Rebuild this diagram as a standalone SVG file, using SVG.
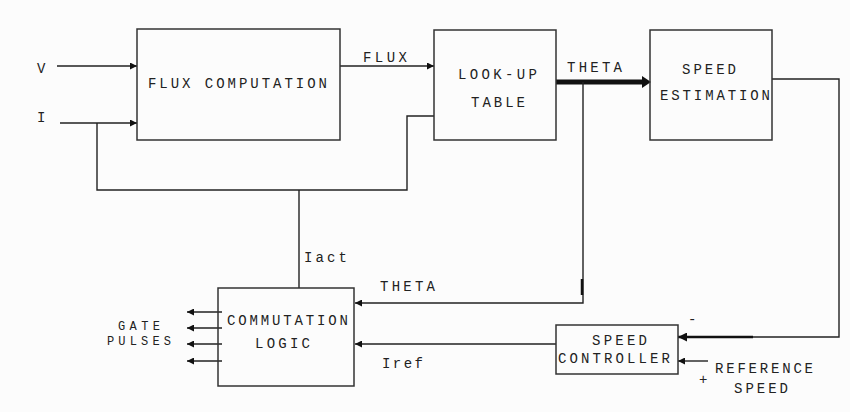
<svg xmlns="http://www.w3.org/2000/svg" width="850" height="412" viewBox="0 0 850 412">
<defs>
<style>
.box{fill:none;stroke:#333;stroke-width:1.5}
.ln{fill:none;stroke:#222;stroke-width:1.4}
.t{font-family:"Liberation Mono","DejaVu Sans Mono",monospace;font-size:14px;fill:#222}
.s{font-size:12px}
</style>
<marker id="ah" viewBox="0 0 10 10" refX="10" refY="5" markerWidth="8" markerHeight="7" markerUnits="userSpaceOnUse" orient="auto"><path d="M0,0 L10,5 L0,10 Z" fill="#111"/></marker>
<marker id="ahb" viewBox="0 0 10 10" refX="10" refY="5" markerWidth="10" markerHeight="9" markerUnits="userSpaceOnUse" orient="auto"><path d="M0,0 L10,5 L0,10 Z" fill="#111"/></marker>
</defs>
<rect width="850" height="412" fill="#fcfcfc"/>
<g id="connectors">
<line class="ln" x1="57" y1="66" x2="137" y2="66" marker-end="url(#ah)"/>
<line class="ln" x1="60" y1="123" x2="137" y2="123" marker-end="url(#ah)"/>
<polyline class="ln" points="97,123 97,190 407,190 407,116 434,116"/>
<line class="ln" x1="299" y1="190" x2="299" y2="288"/>
<line class="ln" x1="340" y1="66" x2="434" y2="66" marker-end="url(#ah)"/>
<line x1="556" y1="82" x2="645" y2="82" stroke="#111" stroke-width="5"/>
<path d="M642,76 L651,82 L642,88 Z" fill="#111"/>
<polyline class="ln" points="583,82 583,303 355,303" marker-end="url(#ah)"/>
<line x1="582" y1="279" x2="582" y2="295" stroke="#111" stroke-width="2.5"/>
<polyline class="ln" points="772,79 839,79 839,337 753,337"/>
<line x1="753" y1="337" x2="678" y2="337" stroke="#111" stroke-width="2.5" marker-end="url(#ahb)"/>
<line class="ln" x1="708" y1="361" x2="678" y2="361" marker-end="url(#ah)"/>
<line class="ln" x1="556" y1="344" x2="355" y2="344" marker-end="url(#ah)"/>
<line class="ln" x1="222" y1="312" x2="187" y2="312" marker-end="url(#ah)"/>
<line class="ln" x1="222" y1="328" x2="187" y2="328" marker-end="url(#ah)"/>
<line class="ln" x1="222" y1="344" x2="187" y2="344" marker-end="url(#ah)"/>
<line class="ln" x1="222" y1="361" x2="187" y2="361" marker-end="url(#ah)"/>
</g>
<g id="flux-computation">
<rect class="box" x="137" y="29" width="203" height="111"/>
<text class="t" x="148" y="88" textLength="179" lengthAdjust="spacing">FLUX COMPUTATION</text>
</g>
<g id="look-up-table">
<rect class="box" x="434" y="30" width="122" height="110"/>
<text class="t" x="458" y="79" textLength="79" lengthAdjust="spacing">LOOK-UP</text>
<text class="t" x="471" y="107" textLength="54" lengthAdjust="spacing">TABLE</text>
</g>
<g id="speed-estimation">
<rect class="box" x="650" y="30" width="122" height="110"/>
<text class="t" x="682" y="74" textLength="54" lengthAdjust="spacing">SPEED</text>
<text class="t" x="660" y="100" textLength="110" lengthAdjust="spacing">ESTIMATION</text>
</g>
<g id="commutation-logic">
<rect class="box" x="218" y="288" width="136" height="98"/>
<text class="t" x="227" y="325" textLength="121" lengthAdjust="spacing">COMMUTATION</text>
<text class="t" x="255" y="348" textLength="55" lengthAdjust="spacing">LOGIC</text>
</g>
<g id="speed-controller">
<rect class="box" x="556" y="325" width="122" height="49"/>
<text class="t" x="592" y="345" textLength="55" lengthAdjust="spacing">SPEED</text>
<text class="t" x="558" y="363" textLength="112" lengthAdjust="spacing">CONTROLLER</text>
</g>
<g id="labels">
<text class="t" x="37" y="73">V</text>
<text class="t" x="37" y="122">I</text>
<text class="t" x="363" y="62" textLength="44" lengthAdjust="spacing">FLUX</text>
<text class="t" x="567" y="72" textLength="55" lengthAdjust="spacing">THETA</text>
<text class="t" x="304" y="262" textLength="43" lengthAdjust="spacing">Iact</text>
<text class="t" x="380" y="291" textLength="55" lengthAdjust="spacing">THETA</text>
<text class="t" x="382" y="368" textLength="41" lengthAdjust="spacing">Iref</text>
<text class="t s" x="118" y="330" textLength="42" lengthAdjust="spacing">GATE</text>
<text class="t s" x="107" y="345" textLength="64" lengthAdjust="spacing">PULSES</text>
<text class="t" x="688" y="324">-</text>
<text class="t" x="699" y="384">+</text>
<text class="t" x="715" y="373" textLength="98" lengthAdjust="spacing">REFERENCE</text>
<text class="t" x="734" y="393" textLength="54" lengthAdjust="spacing">SPEED</text>
</g>
</svg>
